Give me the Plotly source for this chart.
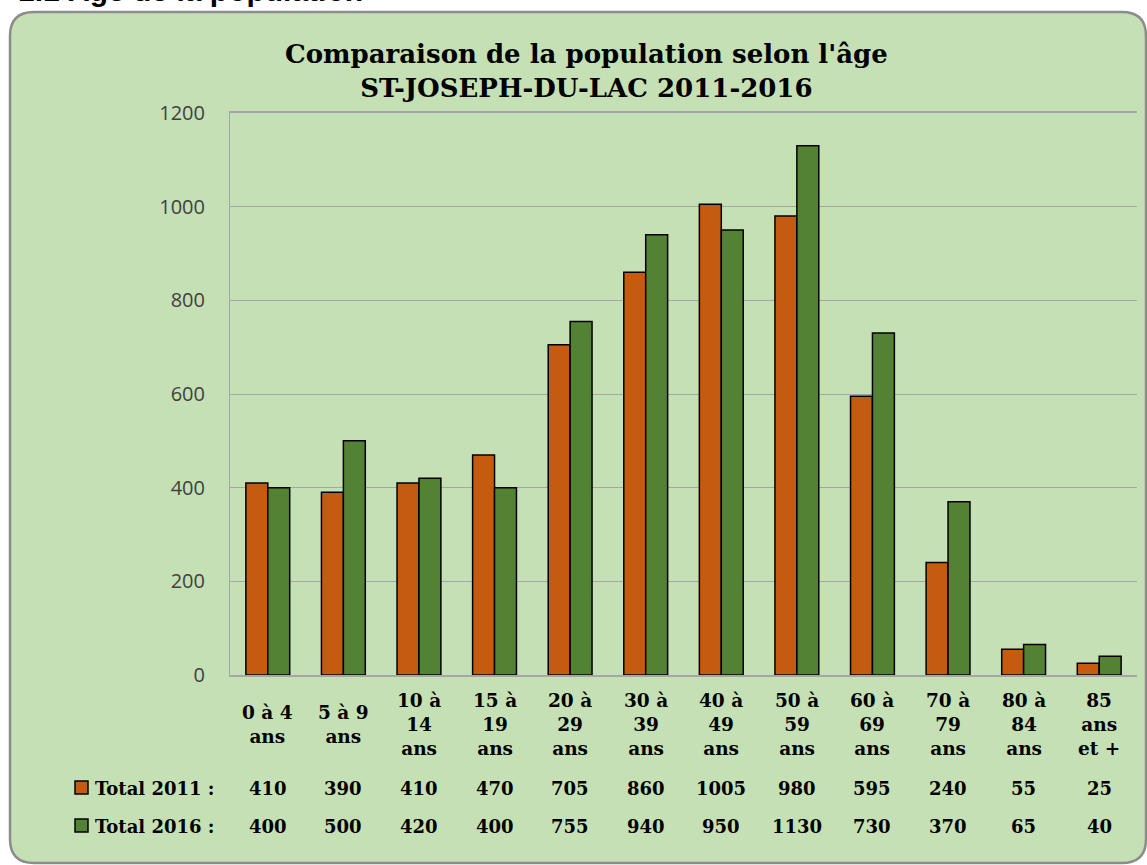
import plotly.graph_objects as go

categories = ["0 à 4<br>ans", "5 à 9<br>ans", "10 à<br>14<br>ans", "15 à<br>19<br>ans",
              "20 à<br>29<br>ans", "30 à<br>39<br>ans", "40 à<br>49<br>ans", "50 à<br>59<br>ans",
              "60 à<br>69<br>ans", "70 à<br>79<br>ans", "80 à<br>84<br>ans", "85<br>ans<br>et +"]
total_2011 = [410, 390, 410, 470, 705, 860, 1005, 980, 595, 240, 55, 25]
total_2016 = [400, 500, 420, 400, 755, 940, 950, 1130, 730, 370, 65, 40]
series_names = ["Total 2011 :", "Total 2016 :"]
colors = ["#C55A11", "#548235"]

W, H = 1147, 865
L, R, T, B = 230, 10, 113, 190
pw, ph = W - L - R, H - T - B

def px(x):
    return (x - L) / pw

def py(y):
    return (H - B - y) / ph

xs = list(range(len(categories)))
fig = go.Figure()
for name, vals, c in zip(series_names, [total_2011, total_2016], colors):
    fig.add_trace(go.Bar(x=xs, y=vals, name=name, marker=dict(color=c, line=dict(color="black", width=1.5))))

serif = "DejaVu Serif"
fig.update_layout(
    width=W, height=H, margin=dict(l=L, r=R, t=T, b=B),
    paper_bgcolor="white", plot_bgcolor="white",
    barmode="group", bargap=0.42, bargroupgap=0, showlegend=False,
    xaxis=dict(tickmode="array", tickvals=xs, showticklabels=False, range=[-0.5, 11.5],
               showline=True, linecolor="#a6a6a6", linewidth=2, ticks="", showgrid=False,
               mirror=True),
    yaxis=dict(range=[0, 1200], dtick=200, showgrid=True, gridcolor="#a6a6a6", gridwidth=1,
               tickfont=dict(family="Open Sans", size=20, color="#404040"),
               showline=True, linecolor="#a6a6a6", linewidth=1, zeroline=False,
               ticklabelstandoff=20),
)

# background rounded panel
x0, y0, x1, y1, r = px(10), py(12), px(1146), py(863), 24
rx, ry = r / pw, r / ph
path = (f"M {x0+rx},{y0} L {x1-rx},{y0} Q {x1},{y0} {x1},{y0-ry} "
        f"L {x1},{y1+ry} Q {x1},{y1} {x1-rx},{y1} L {x0+rx},{y1} Q {x0},{y1} {x0},{y1+ry} "
        f"L {x0},{y0-ry} Q {x0},{y0} {x0+rx},{y0} Z")
fig.add_shape(type="path", path=path, xref="paper", yref="paper", fillcolor="#C5E0B4",
              line=dict(color="#8c8c8c", width=2.5), layer="below")

# title
fig.add_annotation(text="<b>Comparaison de la population selon l'âge<br>ST-JOSEPH-DU-LAC 2011-2016</b>",
                   xref="paper", yref="paper", x=px(586), y=py(71), showarrow=False,
                   xanchor="center", yanchor="middle",
                   font=dict(family=serif, size=26, color="black"), align="center")

# header (clipped at top of page, as in the source)
fig.add_annotation(text="<b>1.1 Âge de la population</b>", xref="paper", yref="paper",
                   x=px(16), y=py(-9), xanchor="left", yanchor="middle", showarrow=False,
                   font=dict(family="Liberation Sans", size=30, color="black"))

# category labels
for i, lab in enumerate(categories):
    fig.add_annotation(text=f"<b>{lab}</b>", x=i, xref="x", y=py(724), yref="paper",
                       xanchor="center", yanchor="middle", showarrow=False, align="center",
                       font=dict(family=serif, size=18.5, color="black"))

# data table
for row, (name, vals, c) in enumerate(zip(series_names, [total_2011, total_2016], colors)):
    yc = [788, 826][row]
    for i, v in enumerate(vals):
        fig.add_annotation(text=f"<b>{v}</b>", x=i, xref="x", y=py(yc), yref="paper",
                           xanchor="center", yanchor="middle",
                           showarrow=False, font=dict(family=serif, size=18, color="black"))
    fig.add_annotation(text=f"<b>{name}</b>", x=px(93), xref="paper", y=py(yc), yref="paper",
                       xanchor="left", yanchor="middle", showarrow=False,
                       font=dict(family=serif, size=18, color="black"))
    fig.add_shape(type="rect", xref="paper", yref="paper", x0=px(75), x1=px(88),
                  y0=py(yc + 6), y1=py(yc - 7), fillcolor=c, line=dict(color="black", width=1.5))

fig.write_html("out.html", config={"displayModeBar": False},
               post_script="document.body.style.margin='0';")
